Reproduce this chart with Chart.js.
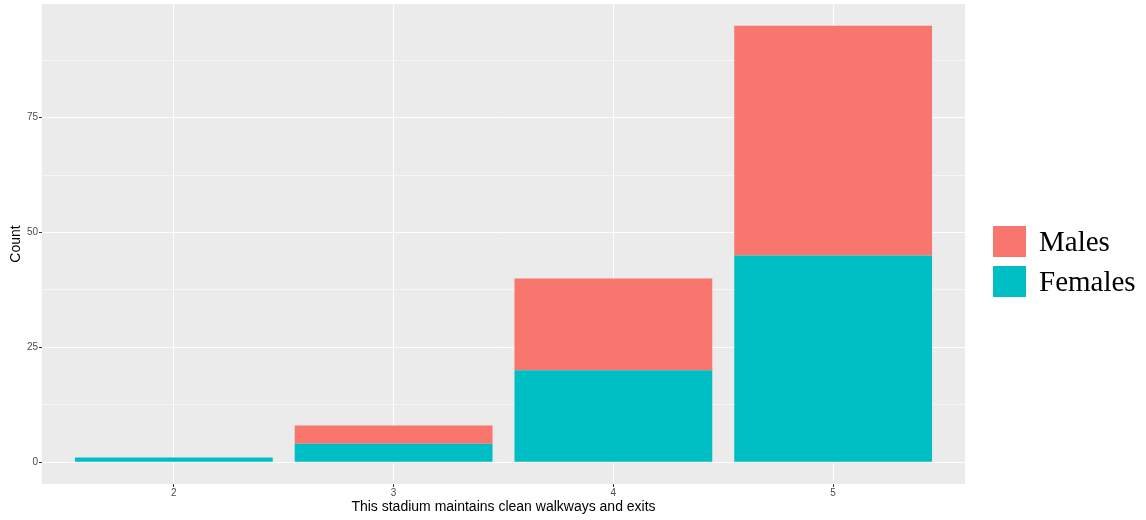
<!DOCTYPE html>
<html>
<head>
<meta charset="utf-8">
<script src="https://cdn.jsdelivr.net/npm/chart.js@4"></script>
<style>
  html, body { margin: 0; padding: 0; background: #fff; }
  #wrap { position: relative; width: 1146px; height: 520px; }
</style>
</head>
<body>
<div id="wrap"><canvas id="chart" width="1146" height="520"></canvas></div>
<script>
// --- Data ---
const ratings = [2, 3, 4, 5];
const femaleCounts = [1, 4, 20, 45];
const maleCounts = [0, 4, 20, 50];
const yMajorTicks = [0, 25, 50, 75];
const yMinorTicks = [12.5, 37.5, 62.5, 87.5];
const seriesNames = ['Females', 'Males'];
const seriesColors = ['#00BFC4', '#F8766D'];

const tickFont = { family: 'Liberation Sans, Arial, sans-serif', size: 10 };
const titleFont = { family: 'Liberation Sans, Arial, sans-serif', size: 14 };

// grey ggplot panel behind the grid
const panelBg = {
    id: 'panelBg',
    beforeDraw(chart) {
        const { ctx, chartArea: a } = chart;
        ctx.save();
        ctx.fillStyle = '#EBEBEB';
        ctx.fillRect(a.left, a.top, a.right - a.left, a.bottom - a.top);
        ctx.restore();
    }
};

// legend drawn to the right of the panel, Males first
const sideLegend = {
    id: 'sideLegend',
    afterDraw(chart) {
        const { ctx, chartArea: a } = chart;
        const sets = chart.data.datasets.slice().reverse();
        ctx.save();
        ctx.font = '29px "Liberation Serif", "Times New Roman", serif';
        ctx.textBaseline = 'middle';
        sets.forEach((ds, i) => {
            const x = a.right + 28;
            const y = 226 + i * 40;
            ctx.fillStyle = ds.backgroundColor;
            ctx.fillRect(x, y, 33, 31);
            ctx.fillStyle = '#000';
            ctx.fillText(ds.label, x + 46, y + 17);
        });
        ctx.restore();
    }
};

const datasets = seriesNames.map((name, i) => ({
    label: name,
    data: ratings.map((r, j) => ({ x: r, y: (i === 0 ? femaleCounts : maleCounts)[j] })),
    backgroundColor: seriesColors[i],
    borderWidth: 0,
    barPercentage: 0.9,
    categoryPercentage: 1.0
}));

new Chart(document.getElementById('chart'), {
    type: 'bar',
    data: { datasets },
    plugins: [panelBg, sideLegend],
    options: {
        responsive: false,
        animation: false,
        events: [],
        layout: { padding: { top: 4, right: 181, left: 0, bottom: 0 } },
        plugins: { legend: { display: false }, tooltip: { enabled: false } },
        scales: {
            x: {
                type: 'linear',
                stacked: true,
                offset: false,
                min: 1.4,
                max: 5.6,
                afterBuildTicks: axis => { axis.ticks = ratings.map(v => ({ value: v })); },
                afterFit: axis => { axis.height = 36; axis.paddingLeft = 0; axis.paddingRight = 0; },
                border: { display: false },
                grid: { offset: false, color: '#FFFFFF', lineWidth: 1, tickLength: 3, tickColor: '#333333' },
                ticks: { font: tickFont, color: '#4D4D4D', padding: 0, maxRotation: 0 },
                title: { display: true, text: 'This stadium maintains clean walkways and exits', font: titleFont, color: '#000', padding: { top: 0, bottom: 4 } }
            },
            y: {
                stacked: true,
                min: -4.75,
                max: 99.75,
                afterBuildTicks: axis => {
                    axis.ticks = yMajorTicks.concat(yMinorTicks).sort((a, b) => a - b).map(v => ({ value: v }));
                },
                afterFit: axis => { axis.width = 42; axis.paddingTop = 0; axis.paddingBottom = 0; },
                border: { display: false },
                grid: {
                    color: ctx => yMajorTicks.includes(ctx.tick && ctx.tick.value) ? '#FFFFFF' : 'rgba(255,255,255,0.55)',
                    lineWidth: 1,
                    tickLength: 3,
                    tickColor: ctx => yMajorTicks.includes(ctx.tick && ctx.tick.value) ? '#333333' : 'rgba(0,0,0,0)'
                },
                ticks: {
                    font: tickFont,
                    color: '#4D4D4D',
                    padding: 1,
                    callback: v => yMajorTicks.includes(v) ? String(v) : ''
                },
                title: { display: true, text: 'Count', font: titleFont, color: '#000', padding: { top: 8, bottom: 0 } }
            }
        }
    }
});
</script>
</body>
</html>
